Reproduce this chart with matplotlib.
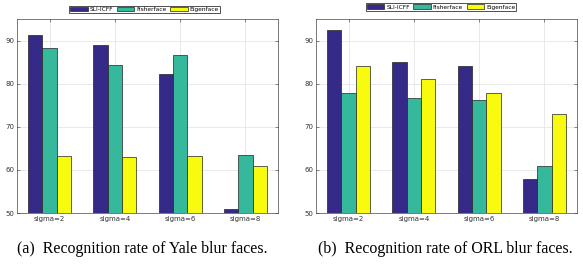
import numpy as np
import matplotlib.pyplot as plt

groups = ['sigma=2', 'sigma=4', 'sigma=6', 'sigma=8']
methods = ['SLI-ICFF', 'Fisherface', 'Eigenface']
colors = ['#352a87', '#36b89c', '#f9fb0e']

yale_sli = [91.2, 88.9, 82.2, 51.0]
yale_fisher = [88.2, 84.3, 86.6, 63.5]
yale_eigen = [63.2, 63.0, 63.3, 60.8]

orl_sli = [92.5, 85.0, 84.0, 57.8]
orl_fisher = [77.8, 76.7, 76.1, 60.9]
orl_eigen = [84.0, 81.0, 77.8, 72.9]

captions = ['(a)  Recognition rate of Yale blur faces.',
            '(b)  Recognition rate of ORL blur faces.']

fig = plt.figure(figsize=(5.83, 2.64), dpi=100)
W, H = 583, 264
boxes = [(17, 19, 278, 213), (316, 19, 577, 213)]
leg_centers = [(144.5, 9.5), (441, 7)]


def draw(ax, series, leg_xy):
    x = np.arange(1, len(groups) + 1)
    w = 0.22
    for i, vals in enumerate(series):
        ax.bar(x + (i - 1) * w, vals, w, color=colors[i], edgecolor='#222222',
               linewidth=0.5, label=methods[i], zorder=3)
    ax.set_xlim(0.5, 4.5)
    ax.set_ylim(50, 95)
    ax.set_xticks(x)
    ax.set_xticklabels(groups)
    ax.set_yticks([50, 60, 70, 80, 90])
    ax.grid(True, color='#e6e6e6', linewidth=0.6, zorder=0)
    ax.tick_params(labelsize=5, length=2, width=0.4, direction='in',
                   top=True, right=True, pad=2, colors='#333333')
    for s in ax.spines.values():
        s.set_linewidth(0.5)
        s.set_color('#444444')
    lx, ly = leg_xy
    leg = ax.legend(ncol=3, fontsize=4.2, loc='center',
                    bbox_to_anchor=(lx / W, 1 - ly / H),
                    bbox_transform=fig.transFigure, frameon=True, fancybox=False,
                    borderpad=0.2, handlelength=3.0, handleheight=0.8,
                    columnspacing=0.6, handletextpad=0.35, borderaxespad=0)
    leg.get_frame().set_edgecolor('black')
    leg.get_frame().set_linewidth(0.6)


data = [[yale_sli, yale_fisher, yale_eigen], [orl_sli, orl_fisher, orl_eigen]]
for k, (x0, y0, x1, y1) in enumerate(boxes):
    ax = fig.add_axes([x0 / W, 1 - y1 / H, (x1 - x0) / W, (y1 - y0) / H])
    draw(ax, data[k], leg_centers[k])

fig.text(17 / W, 1 - 253 / H, captions[0], fontsize=11.4, family='Liberation Serif',
         va='baseline', ha='left')
fig.text(573 / W, 1 - 253 / H, captions[1], fontsize=11.4, family='Liberation Serif',
         va='baseline', ha='right')

fig.savefig('out.png', dpi=100)
